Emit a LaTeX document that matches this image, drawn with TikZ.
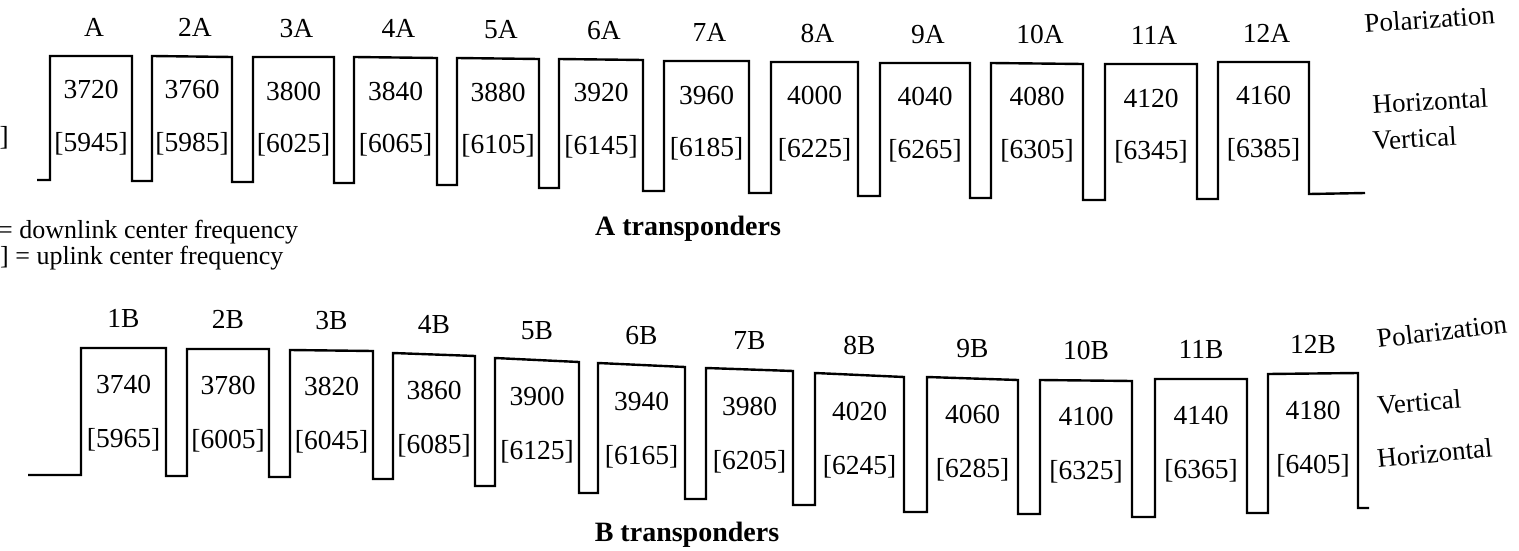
\documentclass[tikz,border=0pt]{standalone}
\usepackage{fontspec}
\setmainfont{Liberation Serif}
\begin{document}
\begin{tikzpicture}[x=1pt,y=-1pt,
  wave/.style={line width=2.4pt,line join=miter,black},
  lab/.style={inner sep=0pt,anchor=base,font=\fontsize{27.5}{30}\selectfont},
  side/.style={inner sep=0pt,anchor=base west,font=\fontsize{27}{30}\selectfont},
  title/.style={inner sep=0pt,anchor=base,font=\fontsize{28}{30}\selectfont\bfseries},
  legend/.style={inner sep=0pt,anchor=base west,font=\fontsize{26}{28}\selectfont}]
\useasboundingbox (0,0) rectangle (1519,551);

% ---------- A transponders ----------
\draw[wave] (37,180) -- (50,180) -- (50,56) -- (132,56) -- (132,181) -- (152,181)
 -- (152,56) -- (232,57) -- (232,182) -- (253,182)
 -- (253,57) -- (334,57) -- (334,183) -- (354,183)
 -- (354,57) -- (437,58) -- (437,185) -- (457,185)
 -- (457,58) -- (539,59) -- (539,188) -- (559,188)
 -- (559,59) -- (643,60) -- (643,191) -- (664,191)
 -- (664,61) -- (749,61) -- (749,193) -- (771,193)
 -- (771,62) -- (858,62) -- (858,196) -- (880,196)
 -- (880,63) -- (970,63) -- (970,198) -- (991,198)
 -- (991,63) -- (1083,64) -- (1083,200) -- (1105,200)
 -- (1105,64) -- (1197,64) -- (1197,199) -- (1218,199)
 -- (1218,62) -- (1309,62) -- (1309,194) -- (1365,193);

\foreach \i/\L/\R/\T/\lab/\dn/\up in {
  1/50/132/56/A/3720/5945, 2/152/232/56/2A/3760/5985, 3/253/334/57/3A/3800/6025,
  4/354/437/57/4A/3840/6065, 5/457/539/58/5A/3880/6105, 6/559/643/59/6A/3920/6145,
  7/664/749/61/7A/3960/6185, 8/771/858/62/8A/4000/6225, 9/880/970/63/9A/4040/6265,
  10/991/1083/63/10A/4080/6305, 11/1105/1197/64/11A/4120/6345, 12/1218/1309/62/12A/4160/6385}{
  \node[lab] (al\i) at ({(\L+\R)/2+3},{\T-19}) {\lab};
  \node[lab] (ad\i) at ({(\L+\R)/2},{\T+43}) {\dn};
  \node[lab] (au\i) at ({(\L+\R)/2},{\T+95}) {[\up]};
}
\node[side,rotate=4] (apol) at (1365,33) {Polarization};
\node[side,rotate=3.5] (ahor) at (1373,114) {Horizontal};
\node[side,rotate=3.4] (aver) at (1373,150) {Vertical};
\node[inner sep=0pt,anchor=base east,font=\fontsize{27.5}{30}\selectfont] (abr) at (9,146) {]};
\node[title] (atitle) at (688,235) {A transponders};

\node[legend] (leg1) at (-2,238) {= downlink center frequency};
\node[legend] (leg2) at (0,264) {] = uplink center frequency};

% ---------- B transponders ----------
\draw[wave] (28,475) -- (81,475) -- (81,348) -- (166,348) -- (166,476) -- (187,476)
 -- (187,349) -- (269,349) -- (269,477) -- (290,477)
 -- (290,350) -- (373,351) -- (373,479) -- (393,479)
 -- (393,353) -- (475,356) -- (475,486) -- (495,486)
 -- (495,358) -- (579,362) -- (579,493) -- (598,493)
 -- (598,363) -- (685,367) -- (685,499) -- (706,499)
 -- (706,368) -- (793,371) -- (793,505) -- (815,505)
 -- (815,373) -- (904,377) -- (904,512) -- (927,512)
 -- (927,377) -- (1018,380) -- (1018,514) -- (1040,514)
 -- (1040,380) -- (1132,381) -- (1132,517) -- (1155,517)
 -- (1155,379) -- (1247,379) -- (1247,513) -- (1268,513)
 -- (1268,374) -- (1358,373) -- (1358,508) -- (1369,508);

\foreach \i/\L/\R/\T/\lab/\dn/\up in {
  1/81/166/348/1B/3740/5965, 2/187/269/349/2B/3780/6005, 3/290/373/350/3B/3820/6045,
  4/393/475/354/4B/3860/6085, 5/495/579/360/5B/3900/6125, 6/598/685/365/6B/3940/6165,
  7/706/793/370/7B/3980/6205, 8/815/904/375/8B/4020/6245, 9/927/1018/378/9B/4060/6285,
  10/1040/1132/380/10B/4100/6325, 11/1155/1247/379/11B/4140/6365, 12/1268/1358/374/12B/4180/6405}{
  \node[lab] (bl\i) at ({(\L+\R)/2},{\T-21}) {\lab};
  \node[lab] (bd\i) at ({(\L+\R)/2},{\T+45}) {\dn};
  \node[lab] (bu\i) at ({(\L+\R)/2},{\T+99}) {[\up]};
}
\node[side,rotate=6.8] (bpol) at (1378,348) {Polarization};
\node[side,rotate=4.7] (bver) at (1378,415) {Vertical};
\node[side,rotate=5.6] (bhor) at (1378,468) {Horizontal};
\node[title] (btitle) at (687,541) {B transponders};
\end{tikzpicture}
\end{document}
